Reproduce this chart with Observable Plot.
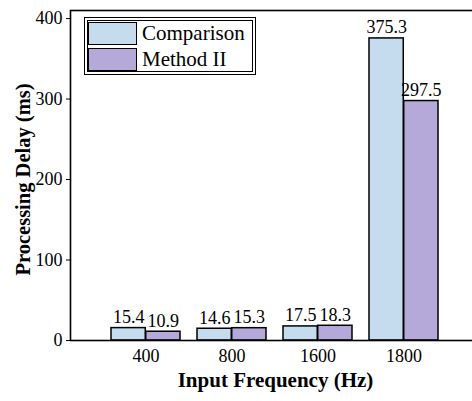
<!DOCTYPE html>
<html>
<head>
<meta charset="utf-8">
<script src="https://cdn.jsdelivr.net/npm/d3@7"></script>
<script src="https://cdn.jsdelivr.net/npm/@observablehq/plot@0.6"></script>
<style>
  html, body { margin: 0; padding: 0; background: #fff; overflow: hidden; }
  #wrap { position: relative; width: 472px; height: 401px; overflow: hidden; font-family: "Liberation Serif", "Times New Roman", serif; }
  #wrap svg, #wrap svg text { font-family: "Liberation Serif", "Times New Roman", serif !important; }
  #legend { position: absolute; left: 84px; top: 17px; width: 164px; height: 50px; border: 4px double #000; background: #fff; }
  .item { position: absolute; left: 0px; height: 23px; display: flex; align-items: center; }
  .sw { width: 47px; height: 21px; border: 1.5px solid #000; margin-right: 5px; }
  .lab { font-size: 21px; line-height: 23px; color: #000; }
</style>
</head>
<body>
<div id="wrap"><div id="legend"></div></div>
<script>
const frequencies = ["400", "800", "1600", "1800"];
const seriesNames = ["Comparison", "Method II"];
const comparison = [15.4, 14.6, 17.5, 375.3];
const methodII = [10.9, 15.3, 18.3, 297.5];
const colors = ["#c5dbee", "#b4a9d8"];
const yTicks = [0, 100, 200, 300, 400];
const xTitle = "Input Frequency (Hz)";
const yTitle = "Processing Delay (ms)";

const W = 472, H = 401;
const mL = 70, mR = -8, mT = 10, mB = 61;
const padIn = 0.195, padOut = 0.4725;

const rows = [];
frequencies.forEach((f, i) => {
  rows.push({freq: f, series: seriesNames[0], value: comparison[i]});
  rows.push({freq: f, series: seriesNames[1], value: methodII[i]});
});
const compRows = rows.filter(d => d.series === seriesNames[0]);
const methRows = rows.filter(d => d.series === seriesNames[1]);

const xs = Plot.scale({x: {type: "band", domain: frequencies, range: [mL, W - mR], paddingInner: padIn, paddingOuter: padOut}});
const bw = xs.bandwidth;

const fmt = d3.format(".1f");
const font = "Liberation Serif, Times New Roman, serif";

const chart = Plot.plot({
  width: W, height: H,
  marginLeft: mL, marginRight: mR, marginTop: mT, marginBottom: mB,
  style: {fontFamily: font, fontSize: "18px", color: "#000", background: "transparent", overflow: "visible"},
  x: {type: "band", domain: frequencies, paddingInner: padIn, paddingOuter: padOut, tickSize: 0, tickPadding: 9, label: null},
  y: {domain: [0, 410], ticks: yTicks, tickSize: 4, tickPadding: 4, label: null},
  marks: [
    Plot.barY(compRows, {x: "freq", y: "value", fill: colors[0], stroke: "#000", strokeWidth: 1.5, insetRight: bw / 2}),
    Plot.barY(methRows, {x: "freq", y: "value", fill: colors[1], stroke: "#000", strokeWidth: 1.5, insetLeft: bw / 2}),
    Plot.text(compRows, {x: "freq", y: "value", text: d => fmt(d.value), dx: -bw / 4, dy: -5, lineAnchor: "bottom", fill: "#000", fontSize: 18}),
    Plot.text(methRows, {x: "freq", y: "value", text: d => fmt(d.value), dx: bw / 4, dy: -5, lineAnchor: "bottom", fill: "#000", fontSize: 18}),
    Plot.frame({stroke: "#000", strokeWidth: 1.6}),
    Plot.text([xTitle], {frameAnchor: "bottom", dy: 46, text: d => d, fontWeight: "bold", fontSize: 21, fill: "#000"}),
    Plot.text([yTitle], {frameAnchor: "left", textAnchor: "middle", lineAnchor: "middle", rotate: -90, dx: -47, dy: 4, text: d => d, fontWeight: "bold", fontSize: 20.5, fill: "#000"})
  ]
});
chart.style.position = "absolute";
chart.style.left = "0px";
chart.style.top = "0px";
const wrap = document.getElementById("wrap");
wrap.insertBefore(chart, wrap.firstChild);

const legend = document.getElementById("legend");
seriesNames.forEach((name, i) => {
  const item = document.createElement("div");
  item.className = "item";
  item.style.top = (i === 0 ? 1 : 27) + "px";
  const sw = document.createElement("div");
  sw.className = "sw";
  sw.style.background = colors[i];
  const lab = document.createElement("span");
  lab.className = "lab";
  lab.textContent = name;
  item.appendChild(sw);
  item.appendChild(lab);
  legend.appendChild(item);
});
</script>
</body>
</html>
